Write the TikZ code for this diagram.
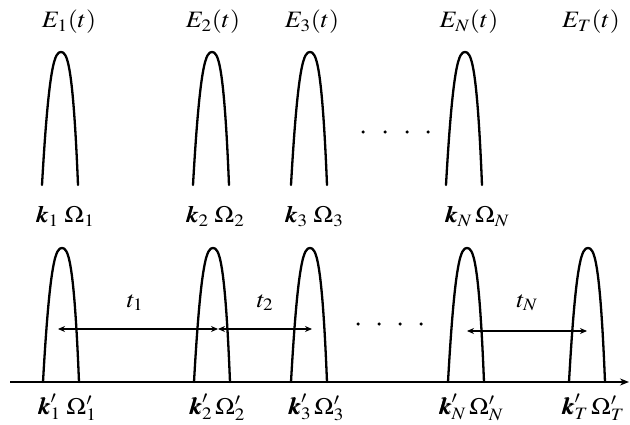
\documentclass[tikz,border=0pt]{standalone}
\usepackage{amsmath}
\usepackage{mathptmx}
\usepackage{bm}
\usepackage{tikz}
\usetikzlibrary{positioning,arrows.meta}
\begin{document}
\begin{tikzpicture}[x=1pt, y=-1pt, font=\fontsize{23.5}{28}\selectfont,
  pulse/.style={line width=2.3pt, line cap=round},
  lbl/.style={inner sep=0pt, anchor=base, xscale=1.1},
  gap/.style={line width=1.4pt, {Stealth[length=7pt,width=6pt]}-{Stealth[length=7pt,width=6pt]}},
  dotmark/.style={fill, circle, inner sep=0pt, minimum size=3.5pt}]
\useasboundingbox (0,0) rectangle (630,425);
% pulses, upper row (peak x) and lower row
\foreach \p in {61,212,310,465}
  \draw[pulse] (\p-19,185) .. controls (\p-12,62) and (\p-6,52) .. (\p,52) .. controls (\p+6,52) and (\p+12,62) .. (\p+17,185);
\foreach \p in {62,213,310,467,588}
  \draw[pulse] (\p-19,382) .. controls (\p-12,258) and (\p-6,248) .. (\p,248) .. controls (\p+6,248) and (\p+12,258) .. (\p+17,382);
% axis
\coordinate (ax0) at (10,382);
\coordinate (ax1) at (629,382);
\draw[line width=1.8pt, -{Stealth[length=9pt,width=7pt]}] (ax0) -- (ax1);
% field labels
\node[lbl] (e1) at (69,28) {$E_1(t)$};
\node[lbl] (e2) at (213,28) {$E_2(t)$};
\node[lbl] (e3) at (312,28) {$E_3(t)$};
\node[lbl] (eN) at (469,28) {$E_N(t)$};
\node[lbl] (eT) at (591,28) {$E_T(t)$};
\node[lbl] (m1) at (65,223) {$\bm{k}_1\;\Omega_1$};
\node[lbl] (m2) at (215,223) {$\bm{k}_2\;\Omega_2$};
\node[lbl] (m3) at (314,223) {$\bm{k}_3\;\Omega_3$};
\node[lbl] (mN) at (477,223) {$\bm{k}_N\,\Omega_N$};
\node[lbl] (b1) at (67,414) {$\bm{k}'_1\;\Omega'_1$};
\node[lbl] (b2) at (217,414) {$\bm{k}'_2\,\Omega'_2$};
\node[lbl] (b3) at (316,414) {$\bm{k}'_3\,\Omega'_3$};
\node[lbl] (bN) at (471,414) {$\bm{k}'_N\,\Omega'_N$};
\node[lbl] (bT) at (593,414) {$\bm{k}'_T\,\Omega'_T$};
% delays
\coordinate (d1a) at (58,329);
\coordinate (d1b) at (218,329);
\coordinate (d2b) at (312,329);
\coordinate (dNa) at (467,331);
\coordinate (dNb) at (587,331);
\draw[gap] (d1a) -- (d1b);
\draw[gap] (d1b) -- (d2b);
\draw[gap] (dNa) -- (dNb);
\node[lbl] (t1) at (135,307) {$t_1$};
\node[lbl] (t2) at (265,307) {$t_2$};
\node[lbl] (tN) at (527,307) {$t_N$};
% dots
\foreach \x in {363,385,407,428}
  \node[dotmark] at (\x,132) {};
\foreach \x in {358,379,400,421}
  \node[dotmark] at (\x,324) {};
\end{tikzpicture}
\end{document}
